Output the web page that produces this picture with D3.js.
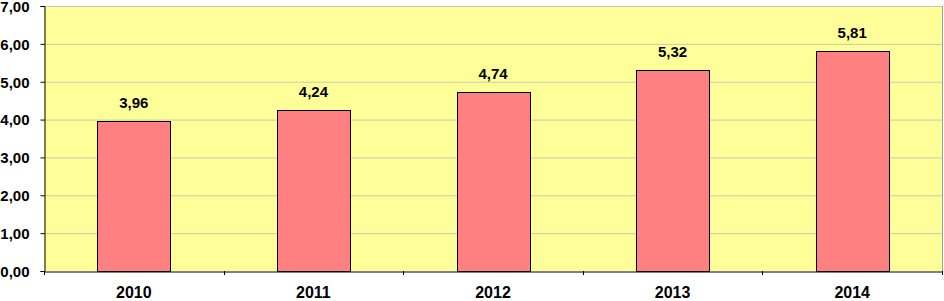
<!DOCTYPE html>
<html><head><meta charset="utf-8">
<script src="https://cdn.jsdelivr.net/npm/d3@7"></script>
<style>body{margin:0;background:#fff}svg{display:block}</style>
</head><body>
<svg id="c" width="944" height="301"></svg>
<script>
const categories = ["2010","2011","2012","2013","2014"];
const values = [3.96,4.24,4.74,5.32,5.81];
const yTicks = [0,1,2,3,4,5,6,7];

const svg = d3.select("#c");
const m = {l:44, r:942, t:6, b:271};
const FONT = "Liberation Sans, Arial, sans-serif";
const x = d3.scaleBand().domain(categories).range([m.l,m.r]).paddingInner(0.595).paddingOuter(0.2975);
const xc = d3.scaleBand().domain(categories).range([m.l,m.r]);
const y = d3.scaleLinear().domain([0,7]).range([m.b,m.t]);
const fmt = v => d3.format(".2f")(v).replace(".",",");

svg.append("rect").attr("x",m.l).attr("y",m.t).attr("width",m.r-m.l).attr("height",m.b-m.t).attr("fill","#ffff99");
svg.append("g").selectAll("line").data(yTicks.slice(1)).join("line")
  .attr("x1",m.l).attr("x2",m.r).attr("y1",d=>y(d)+0.5).attr("y2",d=>y(d)+0.5)
  .attr("stroke","#c8c8b0").attr("stroke-width",1);
svg.append("line").attr("x1",m.r+0.5).attr("x2",m.r+0.5).attr("y1",m.t).attr("y2",m.b).attr("stroke","#a0a090");

svg.append("g").selectAll("rect").data(values).join("rect")
  .attr("x",(d,i)=>Math.round(x(categories[i]))+0.5).attr("width",Math.round(x.bandwidth()))
  .attr("y",d=>Math.round(y(d))+0.5).attr("height",d=>Math.round(m.b-y(d)))
  .attr("fill","#ff8080").attr("stroke","#000").attr("stroke-width",1);

svg.append("g").selectAll("text").data(values).join("text")
  .attr("x",(d,i)=>x(categories[i])+x.bandwidth()/2).attr("y",d=>y(d)-13)
  .attr("text-anchor","middle").attr("font-family",FONT)
  .attr("font-weight","bold").attr("font-size","15px").text(d=>fmt(d));

const ya = d3.axisLeft(y).tickValues(yTicks).tickSize(4).tickFormat(fmt);
const gy = svg.append("g").attr("transform",`translate(${m.l+0.5},0)`).call(ya);
gy.select(".domain").attr("stroke","#000");
gy.selectAll("text").attr("font-family",FONT).attr("font-weight","bold").attr("font-size","15px").attr("fill","#000").attr("x",-15).attr("dy","0.36em");

const xa = d3.axisBottom(xc).tickSize(0).tickSizeOuter(0);
const gx = svg.append("g").attr("transform",`translate(0,${m.b+0.5})`).call(xa);
gx.select(".domain").attr("stroke","#000");
gx.selectAll("text").attr("font-family",FONT).attr("font-weight","bold").attr("font-size","16px").attr("fill","#000").attr("dy","0").attr("y",26);
svg.append("g").selectAll("line").data(categories.concat(["end"])).join("line")
  .attr("x1",(d,i)=>Math.round(m.l+i*xc.bandwidth())+0.5).attr("x2",(d,i)=>Math.round(m.l+i*xc.bandwidth())+0.5)
  .attr("y1",m.b).attr("y2",m.b+4).attr("stroke","#000");
</script>
</body></html>
